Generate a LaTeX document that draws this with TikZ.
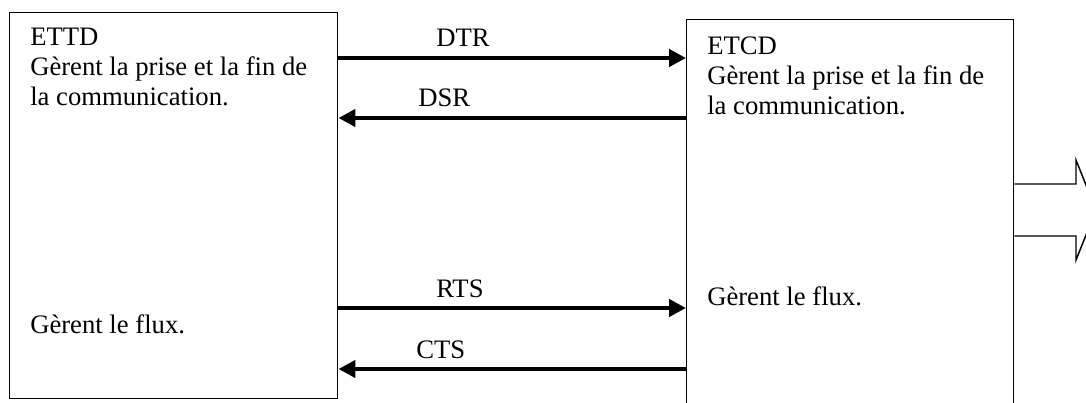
\documentclass[tikz,border=0pt]{standalone}
\usepackage{fontspec}
\setmainfont{Liberation Serif}
\usetikzlibrary{arrows.meta, positioning}
\tikzset{
  unitbox/.style={draw, line width=1.1pt, inner sep=0pt, anchor=north west},
  boxtext/.style={inner sep=0pt, anchor=north west, align=left, font=\fontsize{20}{22.5}\selectfont},
  flowtext/.style={inner sep=0pt, anchor=base west, font=\fontsize{20}{22.5}\selectfont},
  siglabel/.style={inner sep=0pt, anchor=base west, font=\fontsize{20}{22.5}\selectfont},
  sigarrow/.style={-{Triangle[length=12.75pt, width=12.75pt]}, line width=3.4pt},
  bigarrow/.style={draw, line width=1.1pt, fill=white, line join=miter}
}
\begin{document}
\begin{tikzpicture}[x=0.75pt, y=-0.75pt]
\useasboundingbox (0,0) rectangle (1086,403);
\clip (0,0) rectangle (1086,403);
\node[unitbox, minimum width=246pt, minimum height=289.5pt] (ettd) at (9,12) {};
\node[unitbox, minimum width=245.25pt, minimum height=300pt] (etcd) at (686,19) {};
\node[boxtext] (ettdtxt) at (30,28) {ETTD\\Gèrent la prise et la fin de\\la communication.};
\node[flowtext] (ettdflux) at (30,333) {Gèrent le flux.};
\node[boxtext] (etcdtxt) at (707,37) {ETCD\\Gèrent la prise et la fin de\\la communication.};
\node[flowtext] (etcdflux) at (707,305) {Gèrent le flux.};
\node[siglabel] (dtr) at (436,47) {DTR};
\node[siglabel] (dsr) at (418,107) {DSR};
\node[siglabel] (rts) at (436,297) {RTS};
\node[siglabel] (cts) at (416,358) {CTS};
\draw[sigarrow] (ettd.east |- 0,58) -- (etcd.west |- 0,58);
\draw[sigarrow] (etcd.west |- 0,118) -- (ettd.east |- 0,118);
\draw[sigarrow] (ettd.east |- 0,308) -- (etcd.west |- 0,308);
\draw[sigarrow] (etcd.west |- 0,369) -- (ettd.east |- 0,369);
\draw[bigarrow] (etcd.east |- 0,184) -- (1076,184) -- (1076,160) -- (1096,210)
  -- (1076,260) -- (1076,236) -- (etcd.east |- 0,236);
\end{tikzpicture}
\end{document}
